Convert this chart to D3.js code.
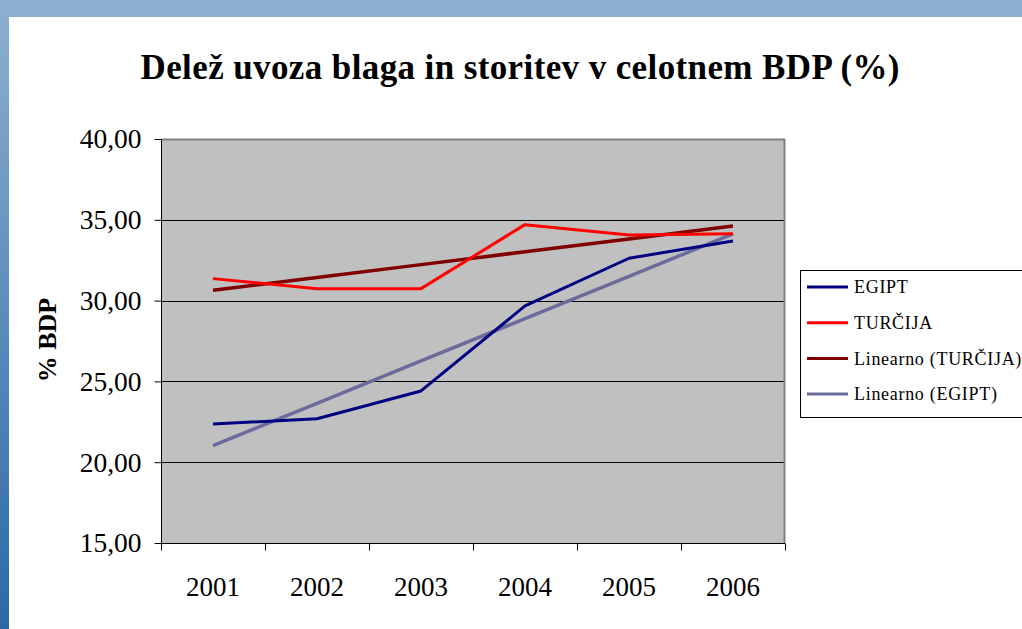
<!DOCTYPE html>
<html lang="sl">
<head>
  <meta charset="utf-8">
  <title>Delež uvoza blaga in storitev v celotnem BDP</title>
  <style>
    html, body { margin: 0; padding: 0; background: #fff; overflow: hidden; }
    svg { display: block; font-family: "Liberation Serif", "Times New Roman", serif; }
  </style>
</head>
<body>
  <div id="chart"></div>

  <script src="https://d3js.org/d3.v7.min.js"></script>
  <script>
const years = ["2001", "2002", "2003", "2004", "2005", "2006"];
const egipt = [22.36, 22.69, 24.41, 29.67, 32.62, 33.69];
const turcija = [31.36, 30.74, 30.74, 34.70, 34.06, 34.14];
const yTicks = [15, 20, 25, 30, 35, 40];

// least squares trend, as the spreadsheet's "Linearno" trendline does
function trend(values) {
    const n = values.length;
    const mx = (n + 1) / 2;
    const my = d3.mean(values);
    let sxy = 0, sxx = 0;
    values.forEach((v, i) => {
        sxy += (i + 1 - mx) * (v - my);
        sxx += (i + 1 - mx) * (i + 1 - mx);
    });
    const b = sxy / sxx;
    return values.map((v, i) => my + b * (i + 1 - mx));
}

const series = [
    { name: "EGIPT", values: egipt, color: "#000080", width: 3 },
    { name: "TURČIJA", values: turcija, color: "#ff0000", width: 3 },
    { name: "Linearno (TURČIJA)", values: trend(turcija), color: "#800000", width: 3.5 },
    { name: "Linearno (EGIPT)", values: trend(egipt), color: "#6b6b9c", width: 3.5 }
];
// drawing order: trends under data lines like the original
const drawOrder = [2, 3, 1, 0];

const W = 1022, H = 629;
const plot = { left: 161, right: 785, top: 139, bottom: 543 };

const svg = d3.select("#chart").append("svg")
    .attr("width", W).attr("height", H);

// slide frame
const defs = svg.append("defs");
const grad = defs.append("linearGradient").attr("id", "frame")
    .attr("x1", 0).attr("y1", 0).attr("x2", 0).attr("y2", 1);
grad.append("stop").attr("offset", "0%").attr("stop-color", "#8db0d0");
grad.append("stop").attr("offset", "100%").attr("stop-color", "#2a69a8");

svg.append("rect").attr("x", 0).attr("y", 0).attr("width", W).attr("height", 17)
    .attr("fill", "#8caecf");
svg.append("rect").attr("x", 0).attr("y", 0).attr("width", 9).attr("height", H)
    .attr("fill", "url(#frame)");

const x = d3.scaleBand().domain(years).range([plot.left, plot.right]);
const y = d3.scaleLinear().domain([15, 40]).range([plot.bottom, plot.top]);

// plot area
svg.append("rect")
    .attr("x", plot.left).attr("y", plot.top)
    .attr("width", plot.right - plot.left).attr("height", plot.bottom - plot.top)
    .attr("fill", "#c0c0c0");

// gridlines
svg.append("g")
    .selectAll("line")
    .data(yTicks.slice(1))
    .join("line")
    .attr("x1", plot.left).attr("x2", plot.right)
    .attr("y1", d => Math.round(y(d)) + 0.5).attr("y2", d => Math.round(y(d)) + 0.5)
    .attr("stroke", "#000").attr("stroke-width", 1);

// plot border (top and right)
svg.append("path")
    .attr("d", `M${plot.left},${plot.top + 0.5}H${plot.right - 0.5}V${plot.bottom}`)
    .attr("fill", "none").attr("stroke", "#808080").attr("stroke-width", 2);

// y axis
const yAxis = svg.append("g")
    .attr("transform", `translate(${plot.left + 0.5},0)`)
    .call(d3.axisLeft(y).tickValues(yTicks).tickSize(7).tickPadding(13)
        .tickFormat(d => d3.format(".2f")(d).replace(".", ",")));
yAxis.select(".domain").attr("stroke", "#000").attr("d", `M0,${plot.top}V${plot.bottom}`);
yAxis.selectAll(".tick line").attr("stroke", "#000");
yAxis.selectAll(".tick text")
    .attr("font-size", 27.5).attr("fill", "#000")
    .attr("font-family", "Liberation Serif, serif")
    .attr("dy", "0.32em");

// x axis
const xAxis = svg.append("g")
    .attr("transform", `translate(0,${plot.bottom + 0.5})`)
    .call(d3.axisBottom(x).tickSize(0).tickPadding(33));
xAxis.select(".domain").attr("stroke", "#000").attr("d", `M${plot.left},0H${plot.right}`);
xAxis.selectAll(".tick text")
    .attr("font-size", 27).attr("fill", "#000")
    .attr("font-family", "Liberation Serif, serif");
xAxis.append("g")
    .selectAll("line")
    .data(years.concat(["end"]))
    .join("line")
    .attr("x1", (d, i) => Math.round(plot.left + i * x.bandwidth()) + 0.5)
    .attr("x2", (d, i) => Math.round(plot.left + i * x.bandwidth()) + 0.5)
    .attr("y1", 0).attr("y2", 7)
    .attr("stroke", "#000");

// lines
const line = d3.line()
    .x((d, i) => x(years[i]) + x.bandwidth() / 2)
    .y(d => y(d));

svg.append("g")
    .selectAll("path")
    .data(drawOrder.map(i => series[i]))
    .join("path")
    .attr("d", d => line(d.values))
    .attr("fill", "none")
    .attr("stroke", d => d.color)
    .attr("stroke-width", d => d.width)
    .attr("stroke-linejoin", "round");

// title
svg.append("text")
    .attr("x", 520).attr("y", 79)
    .attr("text-anchor", "middle")
    .attr("font-size", 35).attr("font-weight", "bold")
    .attr("textLength", 759).attr("lengthAdjust", "spacing")
    .text("Delež uvoza blaga in storitev v celotnem BDP (%)");

// y axis title
svg.append("text")
    .attr("transform", "translate(56,340) rotate(-90)")
    .attr("text-anchor", "middle")
    .attr("font-size", 26).attr("font-weight", "bold")
    .text("% BDP");

// legend
const legend = svg.append("g").attr("transform", "translate(800,270)");
legend.append("rect")
    .attr("x", 0.5).attr("y", 0.5).attr("width", 260).attr("height", 147)
    .attr("fill", "#fff").attr("stroke", "#000");
const item = legend.selectAll("g.item")
    .data(series)
    .join("g")
    .attr("class", "item")
    .attr("transform", (d, i) => `translate(0,${17 + i * 35.7})`);
item.append("line")
    .attr("x1", 7).attr("x2", 48)
    .attr("stroke", d => d.color).attr("stroke-width", 3);
item.append("text")
    .attr("x", 54).attr("dy", "0.35em")
    .attr("font-size", 18).attr("letter-spacing", 0.7)
    .text(d => d.name);
  </script>
</body>
</html>
